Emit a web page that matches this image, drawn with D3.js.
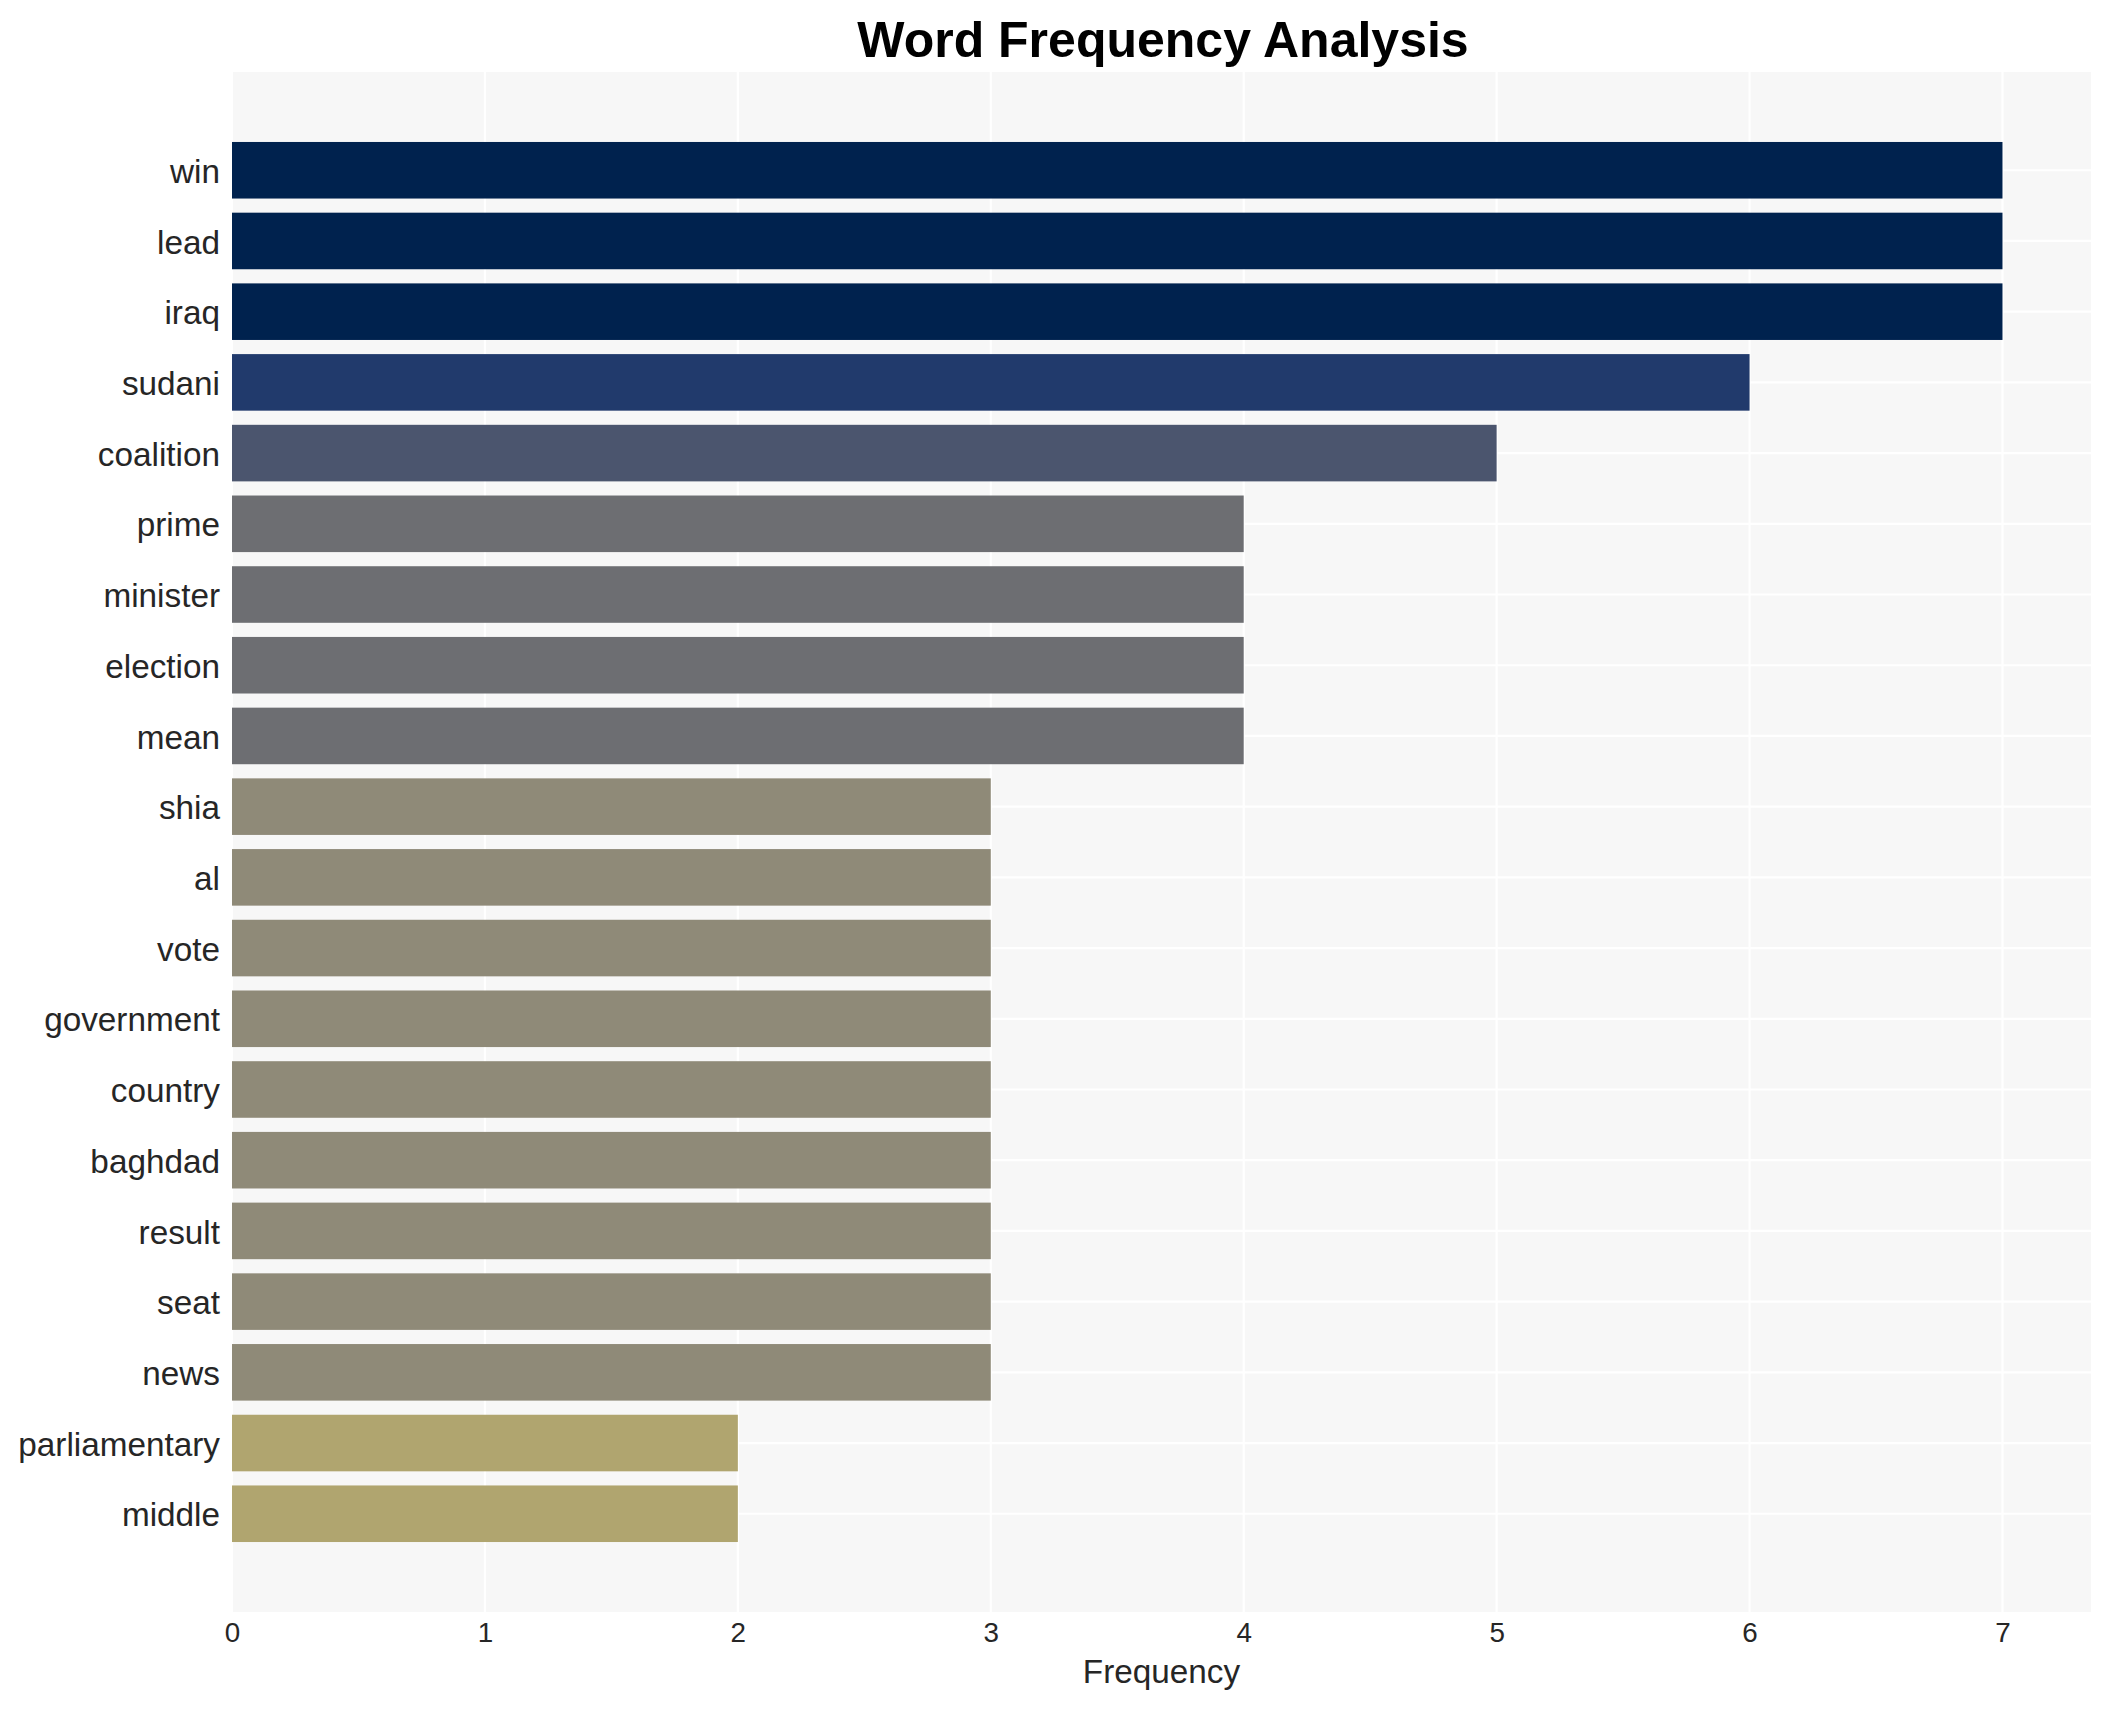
<!DOCTYPE html>
<html>
<head>
<meta charset="utf-8">
<script src="https://cdn.jsdelivr.net/npm/d3@7"></script>
<style>
  body { margin: 0; background: #fff; }
  svg { display: block; font-family: "Liberation Sans", Arial, sans-serif; }
</style>
</head>
<body>
<svg id="chart"></svg>
<script>
// data
const words = ["win", "lead", "iraq", "sudani", "coalition", "prime", "minister", "election", "mean",
               "shia", "al", "vote", "government", "country", "baghdad", "result", "seat", "news",
               "parliamentary", "middle"];
const counts = [7, 7, 7, 6, 5, 4, 4, 4, 4, 3, 3, 3, 3, 3, 3, 3, 3, 3, 2, 2];
const colorLevels = [7, 6, 5, 4, 3, 2];
const colorValues = ["#00224e", "#213a6c", "#4b556e", "#6d6e72", "#8f8a78", "#b0a56f"];
const xTicks = [0, 1, 2, 3, 4, 5, 6, 7];

const width = 2111, height = 1710;
const panel = { left: 232, right: 2091, top: 72, bottom: 1612 };
const textColor = "#262626";

const svg = d3.select("#chart")
    .attr("width", width)
    .attr("height", height);

const x = d3.scaleLinear()
    .domain([0, 7.35])
    .range([panel.left, panel.right]);

const y = d3.scaleBand()
    .domain(words)
    .range([134.9, 1549.1])
    .paddingInner(0.2)
    .paddingOuter(0.1);

const color = d3.scaleOrdinal()
    .domain(colorLevels)
    .range(colorValues);

// panel background
svg.append("rect")
    .attr("x", panel.left)
    .attr("y", panel.top)
    .attr("width", panel.right - panel.left)
    .attr("height", panel.bottom - panel.top)
    .attr("fill", "#f7f7f7");

// grid
svg.append("g")
  .selectAll("line")
  .data(xTicks)
  .join("line")
    .attr("x1", d => x(d)).attr("x2", d => x(d))
    .attr("y1", panel.top).attr("y2", panel.bottom)
    .attr("stroke", "#fff")
    .attr("stroke-width", 2.2);

svg.append("g")
  .selectAll("line")
  .data(words)
  .join("line")
    .attr("x1", panel.left).attr("x2", panel.right)
    .attr("y1", d => y(d) + y.bandwidth() / 2)
    .attr("y2", d => y(d) + y.bandwidth() / 2)
    .attr("stroke", "#fff")
    .attr("stroke-width", 2.2);

// bars
svg.append("g")
  .selectAll("rect")
  .data(words)
  .join("rect")
    .attr("x", x(0))
    .attr("y", d => y(d))
    .attr("width", (d, i) => x(counts[i]) - x(0))
    .attr("height", y.bandwidth())
    .attr("fill", (d, i) => color(counts[i]));

// x axis
svg.append("g")
    .attr("transform", `translate(0,${panel.bottom})`)
    .call(d3.axisBottom(x).tickValues(xTicks).tickSize(0).tickPadding(10))
    .call(g => g.select(".domain").remove())
    .call(g => g.selectAll("text")
        .attr("fill", textColor)
        .style("font-size", "27.8px")
        .style("font-family", "Liberation Sans, Arial, sans-serif"));

// y axis
svg.append("g")
    .attr("transform", `translate(${panel.left},0)`)
    .call(d3.axisLeft(y).tickSize(0).tickPadding(12))
    .call(g => g.select(".domain").remove())
    .call(g => g.selectAll("text")
        .attr("fill", textColor)
        .attr("dy", "0.38em")
        .style("font-size", "33.3px")
        .style("font-family", "Liberation Sans, Arial, sans-serif"));

// axis title
svg.append("text")
    .attr("x", (panel.left + panel.right) / 2)
    .attr("y", 1683)
    .attr("text-anchor", "middle")
    .attr("fill", textColor)
    .style("font-size", "33.3px")
    .text("Frequency");

// chart title
svg.append("text")
    .attr("x", 1163)
    .attr("y", 57)
    .attr("text-anchor", "middle")
    .attr("fill", "#000")
    .style("font-size", "50px")
    .style("font-weight", "bold")
    .text("Word Frequency Analysis");
</script>
</body>
</html>
